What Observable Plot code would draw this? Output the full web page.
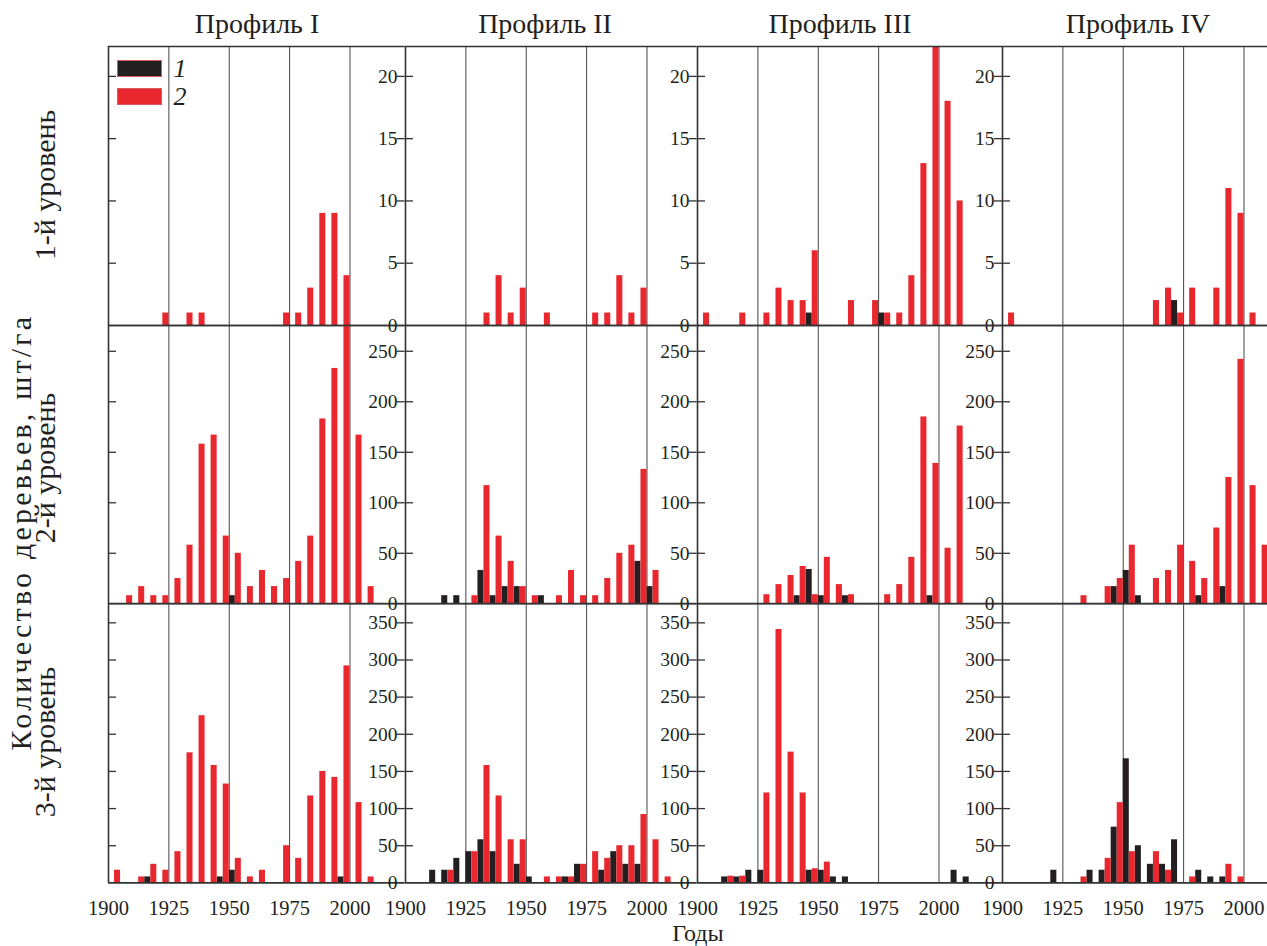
<!DOCTYPE html>
<html><head><meta charset="utf-8">
<script src="https://cdn.jsdelivr.net/npm/d3@7"></script>
<script src="https://cdn.jsdelivr.net/npm/@observablehq/plot@0.6"></script>
<style>
body{margin:0;background:#fff;}
#wrap{position:relative;width:1267px;height:946px;overflow:hidden;font-family:"Liberation Serif","DejaVu Serif",serif;color:#231f20;background:#fff;}
.lbl{position:absolute;white-space:nowrap;line-height:1;}
.sw{position:absolute;box-sizing:border-box;border:1px solid #d85a5e;}
</style></head><body><div id="wrap"></div>
<script>
// ---- categories / tick labels ----
const bins = [1900,1905,1910,1915,1920,1925,1930,1935,1940,1945,1950,1955,1960,1965,1970,1975,1980,1985,1990,1995,2000,2005,2010];
const profiles = ["Профиль I","Профиль II","Профиль III","Профиль IV"];
const levels = ["1-й уровень","2-й уровень","3-й уровень"];
const seriesNames = ["1","2"];
const xTicks = [1900,1925,1950,1975,2000];
const yTicksL1 = [0,5,10,15,20];
const yTicksL2 = [0,50,100,150,200,250];
const yTicksL3 = [0,50,100,150,200,250,300,350];
const yMaxL1 = 22.4, yMaxL2 = 275.5, yMaxL3 = 376;

// ---- series values (series 1 = black, series 2 = red), per bin start ----
const I_L1_s1   = [0,0,0,0,0,0,0,0,0,0,0,0,0,0,0,0,0,0,0,0,0,0,0];
const I_L1_s2   = [0,0,0,0,1,0,1,1,0,0,0,0,0,0,1,1,3,9,9,4,0,0,0];
const I_L2_s1   = [0,0,0,0,0,0,0,0,0,0,8,0,0,0,0,0,0,0,0,0,0,0,0];
const I_L2_s2   = [0,8,17,8,8,25,58,158,167,67,50,17,33,17,25,42,67,183,233,290,167,17,0];
const I_L3_s1   = [0,0,0,8,0,0,0,0,0,8,17,0,0,0,0,0,0,0,0,8,0,0,0];
const I_L3_s2   = [17,0,8,25,17,42,175,225,158,133,33,8,17,0,50,33,117,150,142,292,108,8,0];

const II_L1_s1  = [0,0,0,0,0,0,0,0,0,0,0,0,0,0,0,0,0,0,0,0,0,0,0];
const II_L1_s2  = [0,0,0,0,0,0,1,4,1,3,0,1,0,0,0,1,1,4,1,3,0,0,0];
const II_L2_s1  = [0,0,0,8,8,0,33,8,17,17,0,8,0,0,0,0,0,0,0,42,17,0,0];
const II_L2_s2  = [0,0,0,0,0,8,117,67,42,17,8,0,8,33,8,8,25,50,58,133,33,0,0];
const II_L3_s1  = [0,0,17,17,33,42,58,42,0,25,8,0,0,8,25,0,17,42,25,25,0,0,0];
const II_L3_s2  = [0,0,0,17,0,42,158,117,58,58,0,8,8,8,25,42,33,50,50,92,58,8,0];

const III_L1_s1 = [0,0,0,0,0,0,0,0,0,1,0,0,0,0,0,1,0,0,0,0,0,0,0];
const III_L1_s2 = [1,0,0,1,0,1,3,2,2,6,0,0,2,0,2,1,1,4,13,23,18,10,0];
const III_L2_s1 = [0,0,0,0,0,0,0,0,8,34,8,0,8,0,0,0,0,0,0,8,0,0,0];
const III_L2_s2 = [0,0,0,0,0,9,19,28,37,9,46,19,9,0,0,9,19,46,185,139,55,176,0];
const III_L3_s1 = [0,0,8,8,17,17,0,0,0,17,17,8,8,0,0,0,0,0,0,0,0,17,8];
const III_L3_s2 = [0,0,9,9,0,121,341,176,121,19,28,0,0,0,0,0,0,0,0,0,0,0,0];

const IV_L1_s1  = [0,0,0,0,0,0,0,0,0,0,0,0,0,0,2,0,0,0,0,0,0,0,0];
const IV_L1_s2  = [1,0,0,0,0,0,0,0,0,0,0,0,2,3,1,3,0,3,11,9,1,0,0];
const IV_L2_s1  = [0,0,0,0,0,0,0,0,0,17,33,8,0,0,0,0,8,0,17,0,0,0,0];
const IV_L2_s2  = [0,0,0,0,0,0,8,0,17,25,58,0,25,33,58,42,25,75,125,242,117,58,0];
const IV_L3_s1  = [0,0,0,0,17,0,0,17,17,75,167,50,25,25,58,0,17,8,8,0,0,0,0];
const IV_L3_s2  = [0,0,0,0,0,0,8,0,33,108,42,0,42,17,0,8,0,0,25,8,0,0,0];

// ---- layout (pixels) ----
const colLeft  = [108.3, 405, 696.7, 1001.7];
const colRight = [405, 696.7, 1001.7, 1267];
const rowTop    = [46, 325, 603.3];
const rowBottom = [325, 603.3, 882.7];
const pxPerYear = 2.415;
const BLACK = "#231f20", RED = "#e8282e", LINE = "#333";
const FONT = '"Liberation Serif","DejaVu Serif",serif';

const seriesGrid = [
  [[I_L1_s1,I_L1_s2],[II_L1_s1,II_L1_s2],[III_L1_s1,III_L1_s2],[IV_L1_s1,IV_L1_s2]],
  [[I_L2_s1,I_L2_s2],[II_L2_s1,II_L2_s2],[III_L2_s1,III_L2_s2],[IV_L2_s1,IV_L2_s2]],
  [[I_L3_s1,I_L3_s2],[II_L3_s1,II_L3_s2],[III_L3_s1,III_L3_s2],[IV_L3_s1,IV_L3_s2]]
];
const yTicksRows = [yTicksL1, yTicksL2, yTicksL3];
const yMaxRows = [yMaxL1, yMaxL2, yMaxL3];

const wrap = document.getElementById("wrap");

function panel(r, c) {
  const [s1, s2] = seriesGrid[r][c];
  const rows = bins.map((b, i) => ({start: b, s1: s1[i], s2: s2[i]}));
  const w = colRight[c] - colLeft[c];
  const h = rowBottom[r] - rowTop[r];
  const xmax = 1900 + w / pxPerYear;
  const ymax = yMaxRows[r];
  const ticks = yTicksRows[r];
  const tickLen = 8 / pxPerYear;
  const mL = 45, mR = 2, mT = 2, mB = r === 2 ? 50 : 2;
  const marks = [
    Plot.ruleX(xTicks.slice(1), {stroke: "#444", strokeWidth: 1}),
    Plot.rect(rows, {filter: d => d.s1 > 0, x1: d => d.start, x2: d => d.start + 2.5, y1: () => 0, y2: d => d.s1, fill: BLACK, clip: true}),
    Plot.rect(rows, {filter: d => d.s2 > 0, x1: d => d.start + 2.5, x2: d => d.start + 5, y1: () => 0, y2: d => d.s2, fill: RED, clip: true}),
    Plot.ruleX([1900], {stroke: LINE, strokeWidth: 1.6}),
    Plot.ruleY([0, ymax], {stroke: LINE, strokeWidth: 1.6}),
    Plot.ruleY(ticks.slice(1), {x1: () => 1900, x2: () => 1900 + tickLen, stroke: LINE, strokeWidth: 1.3})
  ];
  if (c < 3) marks.push(Plot.ruleY(ticks.slice(1), {x1: () => xmax - tickLen, x2: () => xmax, stroke: LINE, strokeWidth: 1.3}));
  if (c > 0) marks.push(Plot.axisY({anchor: "left", ticks, tickSize: 0, tickPadding: 8, label: null, fontSize: 19.5, fill: BLACK}));
  if (r === 2) marks.push(Plot.axisX({anchor: "bottom", ticks: xTicks, tickFormat: d => String(d), tickSize: 0, tickPadding: 18, label: null, fontSize: 20.5, fill: BLACK}));
  const opts = {
    width: w + mL + mR, height: h + mT + mB,
    marginLeft: mL, marginRight: mR, marginTop: mT, marginBottom: mB,
    x: {domain: [1900, xmax]},
    y: {domain: [0, ymax]},
    style: {background: "transparent", overflow: "visible", fontFamily: FONT, fontSize: "20px", color: BLACK},
    marks
  };
  if (r !== 2) opts.x.axis = null;
  if (c === 0) opts.y.axis = null;
  const svg = Plot.plot(opts);
  svg.style.position = "absolute";
  svg.style.left = (colLeft[c] - mL) + "px";
  svg.style.top = (rowTop[r] - mT) + "px";
  svg.style.maxWidth = "none";
  wrap.appendChild(svg);
}

for (let r = 0; r < 3; r++) for (let c = 0; c < 4; c++) panel(r, c);

function label(text, x, y, size, rot = 0, italic = false, spacing = 0, lh = 1) {
  const el = document.createElement("div");
  el.className = "lbl";
  el.textContent = text;
  el.style.left = x + "px";
  el.style.top = y + "px";
  el.style.fontSize = size + "px";
  el.style.lineHeight = lh;
  if (spacing) el.style.letterSpacing = spacing + "px";
  if (italic) el.style.fontStyle = "italic";
  el.style.transform = `translate(-50%,-50%) rotate(${rot}deg)`;
  wrap.appendChild(el);
}
const titleX = [257, 545, 840, 1138];
profiles.forEach((p, i) => label(p, titleX[i], 24, 28));
const levelY = [185, 468, 742];
levels.forEach((l, i) => label(l, 45, levelY[i], 30, -90));
label("Количество деревьев, шт/га", 21, 532, 30, -90, false, 3.2);
label("Годы", 698, 933, 24, 0, false, 0, 0.85);

// legend
const sw1 = document.createElement("div");
sw1.className = "sw"; Object.assign(sw1.style, {left: "117px", top: "60px", width: "45px", height: "17px", background: BLACK});
const sw2 = document.createElement("div");
sw2.className = "sw"; Object.assign(sw2.style, {left: "117px", top: "88px", width: "45px", height: "17px", background: RED});
wrap.appendChild(sw1); wrap.appendChild(sw2);
label(seriesNames[0], 180, 69, 26, 0, true);
label(seriesNames[1], 180, 97, 26, 0, true);
</script></body></html>
